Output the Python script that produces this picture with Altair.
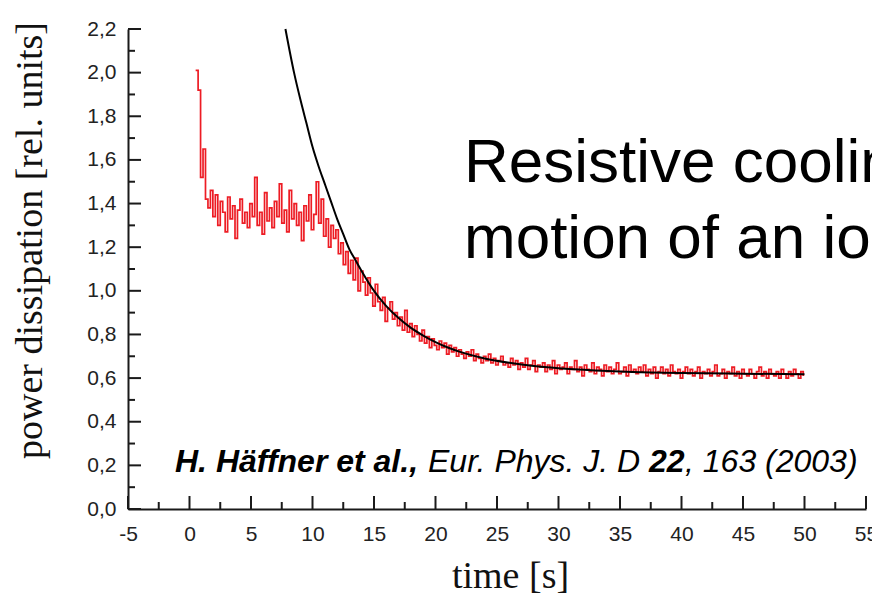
import altair as alt
import pandas as pd

# ---------------- data ----------------
# measured signal (red), sampled every 0.2 s starting at t = 0.5 s
red_start = 0.5
red_step = 0.2
red_values = [
    2.01, 1.92, 1.52, 1.65, 1.42, 1.38, 1.46, 1.34, 1.44, 1.30,
    1.41, 1.36, 1.27, 1.43, 1.33, 1.39, 1.24, 1.37, 1.42, 1.31,
    1.36, 1.29, 1.40, 1.34, 1.52, 1.30, 1.36, 1.26, 1.45, 1.32,
    1.38, 1.29, 1.41, 1.34, 1.49, 1.31, 1.37, 1.27, 1.46, 1.33,
    1.40, 1.30, 1.36, 1.23, 1.39, 1.32, 1.44, 1.28, 1.35, 1.50,
    1.31, 1.42, 1.25, 1.33, 1.20, 1.30, 1.24, 1.28, 1.17, 1.22,
    1.12, 1.18, 1.08, 1.14, 1.05, 1.15, 1.00, 1.09, 1.04, 0.98,
    1.06, 0.99, 0.93, 1.03, 0.95, 0.91, 0.97, 0.86, 0.92, 0.95,
    0.87, 0.90, 0.84, 0.88, 0.82, 0.91, 0.81, 0.85, 0.79, 0.84,
    0.80, 0.77, 0.82, 0.76, 0.79, 0.74, 0.78, 0.75, 0.73, 0.77,
    0.74, 0.76, 0.71, 0.75, 0.72, 0.74, 0.70, 0.73, 0.71, 0.69,
    0.72, 0.70, 0.73, 0.68, 0.71, 0.69, 0.67, 0.70, 0.68, 0.71,
    0.67, 0.69, 0.66, 0.68, 0.70, 0.66, 0.67, 0.65, 0.69, 0.66,
    0.68, 0.64, 0.67, 0.65, 0.69, 0.64, 0.66, 0.68, 0.63, 0.66,
    0.65, 0.67, 0.63, 0.66, 0.64, 0.68, 0.62, 0.66, 0.64, 0.65,
    0.67, 0.62, 0.65, 0.64, 0.68, 0.63, 0.65, 0.61, 0.66, 0.64,
    0.63, 0.67, 0.62, 0.65, 0.64, 0.61, 0.66, 0.63, 0.65, 0.62,
    0.64, 0.67, 0.62, 0.63, 0.65, 0.61, 0.66, 0.63, 0.64, 0.62,
    0.65, 0.63, 0.66, 0.61, 0.64, 0.62, 0.65, 0.60, 0.63, 0.65,
    0.62, 0.64, 0.61, 0.66, 0.63, 0.62, 0.64, 0.60, 0.63, 0.65,
    0.62, 0.64, 0.61, 0.63, 0.65, 0.60, 0.63, 0.62, 0.64, 0.61,
    0.63, 0.66, 0.61, 0.62, 0.64, 0.60, 0.63, 0.62, 0.65, 0.61,
    0.63, 0.60, 0.64, 0.62, 0.61, 0.64, 0.62, 0.60, 0.63, 0.65,
    0.61, 0.63, 0.60, 0.64, 0.62, 0.61, 0.63, 0.60, 0.64, 0.62,
    0.60, 0.63, 0.61, 0.64, 0.62, 0.60, 0.63, 0.61,
]
red_time = [round(red_start + i * red_step, 2) for i in range(len(red_values))]

# fitted curve (black)
fit_time = [7.8, 8.5, 9, 9.5, 10, 10.5, 11, 11.5, 12, 12.5, 13, 13.5, 14, 15, 16,
            17, 18, 19, 20, 21, 22, 24, 26, 28, 30, 33, 36, 40, 45, 50]
fit_values = [2.20, 2.00, 1.88, 1.77, 1.66, 1.57, 1.49, 1.41, 1.33, 1.26, 1.19, 1.14,
              1.09, 1.00, 0.93, 0.875, 0.83, 0.795, 0.765, 0.74, 0.72, 0.69, 0.67,
              0.655, 0.645, 0.635, 0.628, 0.623, 0.62, 0.618]

# axis ticks
x_major = [-5, 0, 5, 10, 15, 20, 25, 30, 35, 40, 45, 50, 55]
x_minor = [-2.5, 2.5, 7.5, 12.5, 17.5, 22.5, 27.5, 32.5, 37.5, 42.5, 47.5, 52.5]
y_major = [0.0, 0.2, 0.4, 0.6, 0.8, 1.0, 1.2, 1.4, 1.6, 1.8, 2.0, 2.2]
y_minor = [0.1, 0.3, 0.5, 0.7, 0.9, 1.1, 1.3, 1.5, 1.7, 1.9, 2.1]

# texts
heading_lines = ["Resistive cooling", "motion of an ion"]
cite_parts = ["H. Häffner et al.,", "Eur. Phys. J. D", "22", ", 163 (2003)"]
cite_bold = [True, False, True, False]

# ---------------- chart ----------------
W, H = 738, 480
AXIS_COLOR = "#1a1a1a"
LABEL_FONT = "Liberation Sans"
TITLE_FONT = "Liberation Serif"

xscale = alt.Scale(domain=[-5, 55], nice=False, zero=False)
yscale = alt.Scale(domain=[0, 2.2], nice=False, zero=False)

xaxis = alt.Axis(
    title="time [s]", values=x_major, labelExpr="'' + datum.value",
    ticks=False, tickSize=0, grid=False,
    domainColor=AXIS_COLOR, domainWidth=2,
    labelFont=LABEL_FONT, labelFontSize=21, labelColor="#222222",
    labelPadding=14, labelFlush=False,
    titleFont=TITLE_FONT, titleFontSize=38, titleFontWeight="normal",
    titleColor="#111111", titleX=382, titleY=78, titleBaseline="alphabetic",
    titleAlign="center",
)
yaxis = alt.Axis(
    title="power dissipation [rel. units]", values=y_major,
    labelExpr="replace(format(datum.value, '.1f'), '.', ',')",
    ticks=False, tickSize=0, grid=False,
    domainColor=AXIS_COLOR, domainWidth=2,
    labelFont=LABEL_FONT, labelFontSize=21, labelColor="#222222",
    labelPadding=12, labelFlush=False,
    titleFont=TITLE_FONT, titleFontSize=38, titleFontWeight="normal",
    titleColor="#111111", titleAngle=270, titleX=-87, titleY=211,
    titleBaseline="alphabetic", titleAlign="center",
)

red_df = pd.DataFrame({"t": red_time, "v": red_values})
fit_df = pd.DataFrame({"t": fit_time, "v": fit_values})

red = alt.Chart(red_df).mark_line(
    color="#ED1C24", strokeWidth=1.7, interpolate="step-after"
).encode(
    x=alt.X("t:Q", scale=xscale, axis=xaxis),
    y=alt.Y("v:Q", scale=yscale, axis=yaxis),
)
fit = alt.Chart(fit_df).mark_line(color="black", strokeWidth=2, interpolate="monotone").encode(
    x=alt.X("t:Q", scale=xscale, axis=xaxis),
    y=alt.Y("v:Q", scale=yscale, axis=yaxis),
)


def y_ticks(vals, length):
    return alt.Chart(pd.DataFrame({"v": vals})).mark_rule(color=AXIS_COLOR, strokeWidth=2).encode(
        y=alt.Y("v:Q", scale=yscale, axis=yaxis),
        x=alt.value(0), x2=alt.value(length),
    )


def x_ticks(vals, length):
    return alt.Chart(pd.DataFrame({"t": vals})).mark_rule(color=AXIS_COLOR, strokeWidth=2).encode(
        x=alt.X("t:Q", scale=xscale, axis=xaxis),
        y=alt.value(H), y2=alt.value(H - length),
    )


one = pd.DataFrame({"k": [0]})


def label(text, x, y, size, weight="normal", style="normal", font=LABEL_FONT):
    return alt.Chart(one).mark_text(
        text=text, align="left", baseline="alphabetic", font=font,
        fontSize=size, fontWeight=weight, fontStyle=style, color="black",
    ).encode(x=alt.value(x), y=alt.value(y))


heading = [label(heading_lines[0], 336, 153, 62), label(heading_lines[1], 336, 229, 62)]

cite_x = [47, 300, 521, 557]
cite = [
    label(p, cx, 443, 32, weight=("bold" if b else "normal"), style="italic")
    for p, cx, b in zip(cite_parts, cite_x, cite_bold)
]

chart = alt.layer(
    red, fit,
    y_ticks(y_major, 13), y_ticks(y_minor, 7),
    x_ticks(x_major, 13), x_ticks(x_minor, 7),
    *heading, *cite,
).properties(
    width=W, height=H,
    padding={"left": 120, "top": 21, "right": 6, "bottom": 86},
    autosize=alt.AutoSizeParams(type="none"),
    background="white",
).configure_view(stroke=None)

chart.save("out.html", embed_options={"renderer": "svg", "actions": False})
